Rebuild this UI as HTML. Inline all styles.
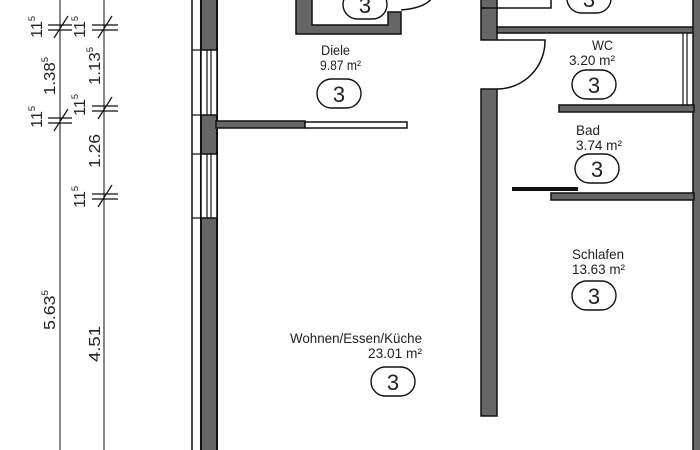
<!DOCTYPE html>
<html><head><meta charset="utf-8"><style>
html,body{margin:0;padding:0;background:#fff;}
svg{display:block;}
text{font-family:"Liberation Sans",sans-serif;fill:#222;}
</style></head><body>
<svg width="700" height="450" viewBox="0 0 700 450" xmlns="http://www.w3.org/2000/svg">
<g stroke="#111" stroke-width="1" fill="none">
<line x1="60" y1="0" x2="60" y2="450"/>
<line x1="104" y1="0" x2="104" y2="450"/>
<g stroke-width="1.2">
<line x1="48" y1="25" x2="72" y2="25"/><line x1="48" y1="30" x2="72" y2="30"/><line x1="54" y1="38" x2="68" y2="16"/>
<line x1="92" y1="25" x2="118" y2="25"/><line x1="92" y1="30" x2="118" y2="30"/><line x1="98" y1="38" x2="112" y2="16"/>
<line x1="48" y1="118" x2="72" y2="118"/><line x1="48" y1="123" x2="72" y2="123"/><line x1="54" y1="131" x2="68" y2="109"/>
<line x1="92" y1="106" x2="118" y2="106"/><line x1="92" y1="111" x2="118" y2="111"/><line x1="98" y1="119" x2="112" y2="97"/>
<line x1="92" y1="194" x2="118" y2="194"/><line x1="92" y1="199" x2="118" y2="199"/><line x1="98" y1="207" x2="112" y2="185"/>
</g>
</g>
<g font-size="16">
<text transform="translate(42,38) rotate(-90)" textLength="22" lengthAdjust="spacingAndGlyphs">11<tspan font-size="9" dy="-7">5</tspan></text>
<text transform="translate(85,38) rotate(-90)" textLength="22" lengthAdjust="spacingAndGlyphs">11<tspan font-size="9" dy="-7">5</tspan></text>
<text transform="translate(55,95) rotate(-90)" textLength="38" lengthAdjust="spacingAndGlyphs">1.38<tspan font-size="9" dy="-7">5</tspan></text>
<text transform="translate(100,85) rotate(-90)" textLength="38" lengthAdjust="spacingAndGlyphs">1.13<tspan font-size="9" dy="-7">5</tspan></text>
<text transform="translate(42,128) rotate(-90)" textLength="22" lengthAdjust="spacingAndGlyphs">11<tspan font-size="9" dy="-7">5</tspan></text>
<text transform="translate(85,116) rotate(-90)" textLength="22" lengthAdjust="spacingAndGlyphs">11<tspan font-size="9" dy="-7">5</tspan></text>
<text transform="translate(100,168) rotate(-90)" textLength="34" lengthAdjust="spacingAndGlyphs">1.26</text>
<text transform="translate(85,208) rotate(-90)" textLength="22" lengthAdjust="spacingAndGlyphs">11<tspan font-size="9" dy="-7">5</tspan></text>
<text transform="translate(55,330) rotate(-90)" textLength="40" lengthAdjust="spacingAndGlyphs">5.63<tspan font-size="9" dy="-7">5</tspan></text>
<text transform="translate(100,362) rotate(-90)" textLength="36" lengthAdjust="spacingAndGlyphs">4.51</text>
</g>
<line x1="192" y1="0" x2="192" y2="450" stroke="#111" stroke-width="1.5"/>
<rect x="201" y="-2" width="16" height="460" fill="#666" stroke="#111" stroke-width="2"/>
<g fill="#fff" stroke="#111" stroke-width="1.5">
<rect x="201" y="50" width="16" height="65"/>
<rect x="201" y="154" width="16" height="64"/>
</g>
<g stroke="#111" stroke-width="1.2">
<line x1="192" y1="50" x2="201" y2="50"/><line x1="192" y1="115" x2="201" y2="115"/>
<line x1="192" y1="154" x2="201" y2="154"/><line x1="192" y1="218" x2="201" y2="218"/>
<line x1="207" y1="50" x2="207" y2="115"/><line x1="211" y1="50" x2="211" y2="115"/>
<line x1="207" y1="154" x2="207" y2="218"/><line x1="211" y1="154" x2="211" y2="218"/>
</g>
<rect x="216" y="121" width="89" height="7" fill="#666" stroke="#111" stroke-width="1.5"/>
<rect x="305" y="122" width="102" height="6" fill="#fff" stroke="#111" stroke-width="1.5"/>
<path d="M296 -2 H312 V25 H388 V12 H401 V34 H296 Z" fill="#666" stroke="#111" stroke-width="1.5"/>
<path d="M401 10 Q425 8 432 -2" fill="none" stroke="#111" stroke-width="1.5"/>
<rect x="481" y="-2" width="16" height="42" fill="#666" stroke="#111" stroke-width="1.5"/>
<rect x="481" y="89" width="16" height="327" fill="#666" stroke="#111" stroke-width="1.5"/>
<path d="M497 40 H545 A48 48 0 0 1 497 89" fill="none" stroke="#111" stroke-width="1.5"/>
<rect x="497" y="27" width="198" height="6" fill="#666" stroke="#111" stroke-width="1.5"/>
<path d="M481 8 H551 V-2" fill="none" stroke="#111" stroke-width="1.5"/>
<rect x="693" y="-2" width="10" height="460" fill="#666" stroke="#111" stroke-width="1.5"/>
<rect x="683" y="33" width="4" height="73" fill="#fff" stroke="#111" stroke-width="1.2"/>
<rect x="559" y="105" width="135" height="7" fill="#666" stroke="#111" stroke-width="1.5"/>
<rect x="512" y="187" width="66" height="4" fill="#111"/>
<rect x="551" y="193" width="143" height="7" fill="#666" stroke="#111" stroke-width="1.5"/>
<g font-size="14">
<text x="321" y="55" textLength="29" lengthAdjust="spacingAndGlyphs">Diele</text>
<text x="320" y="70" textLength="41" lengthAdjust="spacingAndGlyphs">9.87 m²</text>
<text x="592" y="50" textLength="21" lengthAdjust="spacingAndGlyphs">WC</text>
<text x="569" y="65" textLength="46" lengthAdjust="spacingAndGlyphs">3.20 m²</text>
<text x="576" y="135" textLength="24" lengthAdjust="spacingAndGlyphs">Bad</text>
<text x="576" y="150" textLength="46" lengthAdjust="spacingAndGlyphs">3.74 m²</text>
<text x="572" y="259" textLength="52" lengthAdjust="spacingAndGlyphs">Schlafen</text>
<text x="572" y="274" textLength="53" lengthAdjust="spacingAndGlyphs">13.63 m²</text>
<text x="290" y="343" textLength="132" lengthAdjust="spacingAndGlyphs">Wohnen/Essen/Küche</text>
<text x="368" y="358" textLength="54" lengthAdjust="spacingAndGlyphs">23.01 m²</text>
</g>
<g fill="none" stroke="#111" stroke-width="1.4">
<rect x="317" y="79" width="44" height="29" rx="14.5"/>
<rect x="572" y="70" width="44" height="29" rx="14.5"/>
<rect x="575" y="154" width="44" height="29" rx="14.5"/>
<rect x="572" y="281" width="44" height="29" rx="14.5"/>
<rect x="371" y="367" width="44" height="29" rx="14.5"/>
<rect x="343" y="-10" width="44" height="29" rx="14.5"/>
<rect x="567" y="-16" width="44" height="29" rx="14.5"/>
</g>
<g font-size="22" text-anchor="middle">
<text x="339" y="102">3</text>
<text x="594" y="93">3</text>
<text x="597" y="177">3</text>
<text x="594" y="304">3</text>
<text x="393" y="390">3</text>
<text x="365" y="13">3</text>
<text x="589" y="7">3</text>
</g>
</svg>
</body></html>
